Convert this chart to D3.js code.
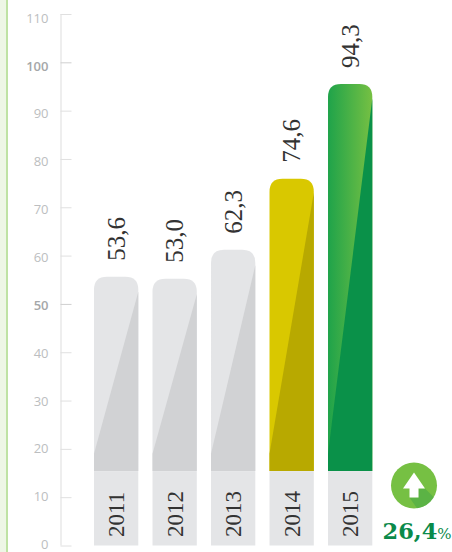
<!DOCTYPE html>
<html><head><meta charset="utf-8">
<script src="https://cdn.jsdelivr.net/npm/d3@7"></script>
<style>html,body{margin:0;padding:0;background:#fff;overflow:hidden}svg{display:block}</style>
</head><body><svg id="c" width="452" height="552"></svg>
<script>
const years = ["2011","2012","2013","2014","2015"];
const valueLabels = ["53,6","53,0","62,3","74,6","94,3"];
const barHeights = [55.6,55.2,61.2,75.9,95.5];
const footValue = 15.4;
const shadeStart = [52.5,52,58,73,92.5];
const shadeFoot = [19,19,19,19,19];
const ticks = [0,10,20,30,40,50,60,70,80,90,100,110];
const boldTicks = [50,100];
const lightFill = ["#e4e5e7","#e4e5e7","#e4e5e7","#d9c800","#76c043"];
const darkFill = ["#d1d2d4","#d1d2d4","#d1d2d4","#b8a900","#0a9149"];
const leftFill = ["#e4e5e7","#e4e5e7","#e4e5e7","#d9c800","#1fa34a"];
const changeLabel = "26,4";

const svg = d3.select("#c");
const y = d3.scaleLinear().domain([0,110]).range([545.5,14]);
const labelY = d3.scaleLinear().domain([0,110]).range([544,17.5]);
const x = d3.scaleBand().domain(years).range([94,372.3]).paddingInner(0.243).paddingOuter(0).align(0);
const serif = "'Liberation Serif',serif";
const defs = svg.append("defs");

svg.append("rect").attr("x",0).attr("y",0).attr("width",6.5).attr("height",552).attr("fill","#eef6e6");
svg.append("rect").attr("x",6).attr("y",0).attr("width",2).attr("height",552).attr("fill","#bfe2a4");

const axis = d3.axisLeft(y).tickValues(ticks).tickSize(-11).tickPadding(12).tickFormat(d3.format("d"));
const ag = svg.append("g").attr("transform","translate(60.5,0)").call(axis);
ag.select(".domain").attr("stroke","#e3e3e3").attr("d",`M0.5,${y(110)}V${y(0)}`).attr("stroke-width",1.2);
ag.selectAll(".tick line").attr("stroke",d=>boldTicks.includes(d)?"#cfcfcf":"#e0e0e0").attr("stroke-width",1);
ag.selectAll(".tick text")
  .attr("x",-12).attr("y",d=>labelY(d)-y(d)).attr("dy","0.36em")
  .attr("font-family","'Open Sans',sans-serif").attr("font-size",13)
  .attr("font-weight",d=>boldTicks.includes(d)?600:400)
  .attr("fill",d=>boldTicks.includes(d)?"#a5a7a9":"#bcbec0");

const grad = defs.selectAll("linearGradient").data(years).join("linearGradient")
  .attr("id",(d,i)=>"g"+i).attr("x1",0).attr("x2",1).attr("y1",0).attr("y2",0);
grad.append("stop").attr("offset",0).attr("stop-color",(d,i)=>leftFill[i]);
grad.append("stop").attr("offset",1).attr("stop-color",(d,i)=>lightFill[i]);

const bars = svg.append("g").selectAll("g").data(years).join("g");
const w = x.bandwidth();
bars.append("path").attr("fill",(d,i)=>`url(#g${i})`)
  .attr("d",(d,i)=>{
    const l=x(d),t=y(barHeights[i]),b=y(footValue),r=13;
    return `M${l},${b}V${t+r}Q${l},${t} ${l+r},${t}H${l+w-r}Q${l+w},${t} ${l+w},${t+r}V${b}Z`;
  });
bars.append("path").attr("fill",(d,i)=>darkFill[i])
  .attr("d",(d,i)=>{
    const l=x(d),b=y(footValue);
    return d3.line()([[l,b],[l,y(shadeFoot[i])],[l+w,y(shadeStart[i])],[l+w,b]])+"Z";
  });
bars.append("rect").attr("x",d=>x(d)).attr("width",w)
  .attr("y",y(footValue)).attr("height",y(0)-y(footValue)).attr("fill","#e4e5e7");
bars.append("text").text(d=>d)
  .attr("transform",d=>`translate(${x(d)+w/2+8},${y(0)-8.5}) rotate(-90)`)
  .attr("font-family",serif).attr("font-size",23).attr("fill","#333");
bars.append("text").text((d,i)=>valueLabels[i])
  .attr("transform",(d,i)=>`translate(${x(d)+w/2+8.5},${y(barHeights[i])-16}) rotate(-90)`)
  .attr("font-family",serif).attr("font-size",25).attr("fill","#333");

const icon = svg.append("g").attr("transform","translate(414,485.5)");
defs.append("clipPath").attr("id","ci").append("circle").attr("r",23);
icon.append("circle").attr("r",23).attr("fill","#76c043");
const arrow = [[0,-13],[11,3],[4.5,3],[4.5,12],[-4.5,12],[-4.5,3],[-11,3]];
icon.append("path").attr("clip-path","url(#ci)").attr("fill","#3fa648").attr("opacity",.5)
  .attr("d",d3.line()([[11,3],[4.5,3],[4.5,12],[-4.5,12],[8,30],[30,30],[30,22]])+"Z");
icon.append("path").attr("fill","#fff").attr("d",d3.line()(arrow)+"Z");

const ch = svg.append("text").attr("x",382.5).attr("y",539).attr("fill","#0a8a4a").attr("font-family","'DejaVu Serif',serif");
ch.append("tspan").attr("font-size",22.5).attr("font-weight",700).text(changeLabel);
ch.append("tspan").attr("font-size",15).attr("font-weight",400).text("%");
</script></body></html>
